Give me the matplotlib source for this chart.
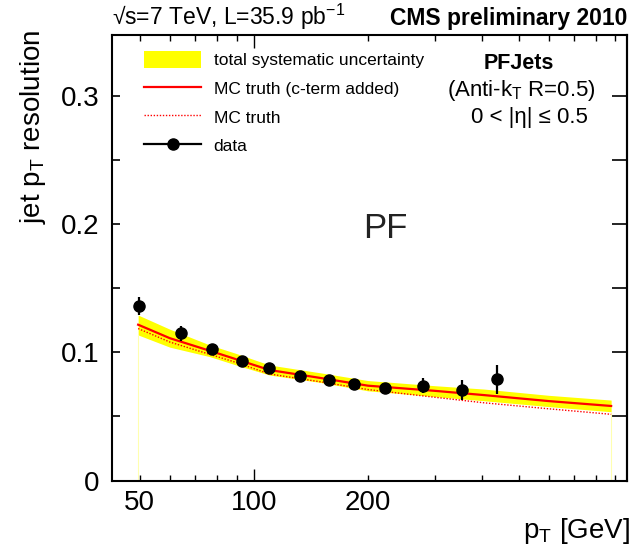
import matplotlib
matplotlib.use('Agg')
import matplotlib.pyplot as plt
from matplotlib.patches import Patch
from matplotlib.lines import Line2D
from matplotlib.ticker import FixedLocator, FuncFormatter
import numpy as np

plt.rcParams['font.family'] = ['Liberation Sans', 'DejaVu Sans']
plt.rcParams['mathtext.fontset'] = 'custom'
plt.rcParams['mathtext.rm'] = 'Liberation Sans'
plt.rcParams['mathtext.it'] = 'Liberation Sans:italic'
plt.rcParams['mathtext.bf'] = 'Liberation Sans:bold'

# data points
pt_data = [49.8, 64.1, 77.6, 92.8, 109.6, 132, 158, 184, 222, 279, 355, 438]
res_data = [0.1358, 0.1148, 0.1026, 0.0935, 0.088, 0.0815, 0.0784, 0.0756, 0.0722, 0.074, 0.0706, 0.079]
err_data = [0.007, 0.006, 0.003, 0.003, 0.003, 0.002, 0.002, 0.002, 0.002, 0.006, 0.008, 0.0113]

# MC curves and systematic band
pt_curve = [49.5, 60, 76.5, 90, 110, 150, 200, 300, 404, 600, 877]
mc_cterm = [0.1215, 0.111, 0.1012, 0.0945, 0.0862, 0.080, 0.074, 0.0700, 0.0667, 0.0620, 0.0582]
mc_truth = [0.1185, 0.108, 0.0984, 0.0920, 0.0831, 0.077, 0.071, 0.0650, 0.0607, 0.0560, 0.0517]
band_lo = [0.1135, 0.104, 0.0966, 0.0900, 0.0823, 0.0765, 0.070, 0.0655, 0.0623, 0.0577, 0.0537]
band_hi = [0.1290, 0.118, 0.1057, 0.0990, 0.0901, 0.0840, 0.078, 0.0740, 0.0714, 0.0665, 0.0628]

x_major = [100]
x_minor = [50, 60, 70, 80, 90, 200, 300, 400, 500, 600, 700, 800, 900]
x_labeled = [50, 100, 200]

fig = plt.figure(figsize=(6.34, 5.57), dpi=100)
ax = fig.add_axes([0.1771, 0.137, 0.8114, 0.801])

ax.fill_between(pt_curve, band_lo, band_hi, color='#ffff00', lw=0, label='total systematic uncertainty')
ax.vlines([pt_curve[0], pt_curve[-1]], 0, [band_lo[0], band_lo[-1]], color='#ffffb0', lw=0.8)
ax.plot(pt_curve, mc_cterm, color='#ff0000', lw=1.6)
ax.plot(pt_curve, mc_truth, color='#ff0000', lw=1.0, ls=(0, (1, 1.2)))
ax.errorbar(pt_data, res_data, yerr=err_data, fmt='o', color='black', ms=8, elinewidth=1.6, capsize=0)

ax.set_xscale('log')
ax.set_xlim(42.3, 964)
ax.set_ylim(0, 0.3475)

ax.xaxis.set_major_locator(FixedLocator(x_major))
ax.xaxis.set_minor_locator(FixedLocator(x_minor))
fmt = FuncFormatter(lambda v, p: '%d' % v if int(round(v)) in x_labeled else '')
ax.xaxis.set_major_formatter(fmt)
ax.xaxis.set_minor_formatter(fmt)
ax.set_yticks([0, 0.1, 0.2, 0.3])
ax.set_yticklabels(['0', '0.1', '0.2', '0.3'])
ax.set_yticks([0.05, 0.15, 0.25], minor=True)

ax.tick_params(axis='x', which='major', direction='in', length=9, width=1, top=True, labelsize=20, pad=7)
ax.tick_params(axis='x', which='minor', direction='in', length=4, width=1, top=True, labelsize=20, pad=7)
ax.tick_params(axis='y', which='both', direction='in', length=6, width=1.2, right=False, labelsize=20, pad=9)
sec = ax.secondary_yaxis('right')
sec.set_yticks([0.05, 0.1, 0.15, 0.2, 0.25, 0.3])
sec.tick_params(direction='in', length=11, width=1.2, labelright=False)
sec.spines['right'].set_linewidth(1.5)
for s in ax.spines.values():
    s.set_linewidth(1.5)

handles = [Patch(facecolor='#ffff00', edgecolor='none'),
           Line2D([], [], color='#ff0000', lw=1.6),
           Line2D([], [], color='#ff0000', lw=1.0, ls=(0, (1, 1.2))),
           Line2D([], [], color='black', lw=1.6, marker='o', ms=8)]
labels = ['total systematic uncertainty', 'MC truth (c-term added)', 'MC truth', 'data']
ax.legend(handles, labels, loc='upper left', bbox_to_anchor=(0.035, 0.995), frameon=False,
          fontsize=12.5, handlelength=3.3, handleheight=1.2, labelspacing=0.62,
          handletextpad=0.7, borderpad=0.3, numpoints=1)

ax.text(0.79, 0.935, 'PFJets', transform=ax.transAxes, ha='center', va='center',
        fontsize=15.5, fontweight='bold')
ax.text(0.795, 0.875, '(Anti-k$_\\mathrm{T}$ R=0.5)', transform=ax.transAxes, ha='center',
        va='center', fontsize=16)
ax.text(0.81, 0.813, '0 < |η| ≤ 0.5', transform=ax.transAxes, ha='center', va='center', fontsize=16)
ax.text(0.53, 0.565, 'PF', transform=ax.transAxes, ha='center', va='center', fontsize=25, color='#222222')

fig.text(112 / 634, 1 - 25 / 557, '√s=7 TeV, L=35.9 pb$^{-1}$', ha='left', va='baseline', fontsize=16.5)
fig.text(627 / 634, 1 - 25 / 557, 'CMS preliminary 2010', ha='right', va='baseline', fontsize=16.5,
         fontweight='bold')
fig.text(33 / 634, 1 - 30 / 557, 'jet p$_\\mathrm{T}$ resolution', rotation=90, ha='center', va='top', fontsize=20)
fig.text(630 / 634, 1 - 538 / 557, 'p$_\\mathrm{T}$ [GeV]', ha='right', va='baseline', fontsize=20)

fig.savefig('out.png', dpi=100, facecolor='white')
